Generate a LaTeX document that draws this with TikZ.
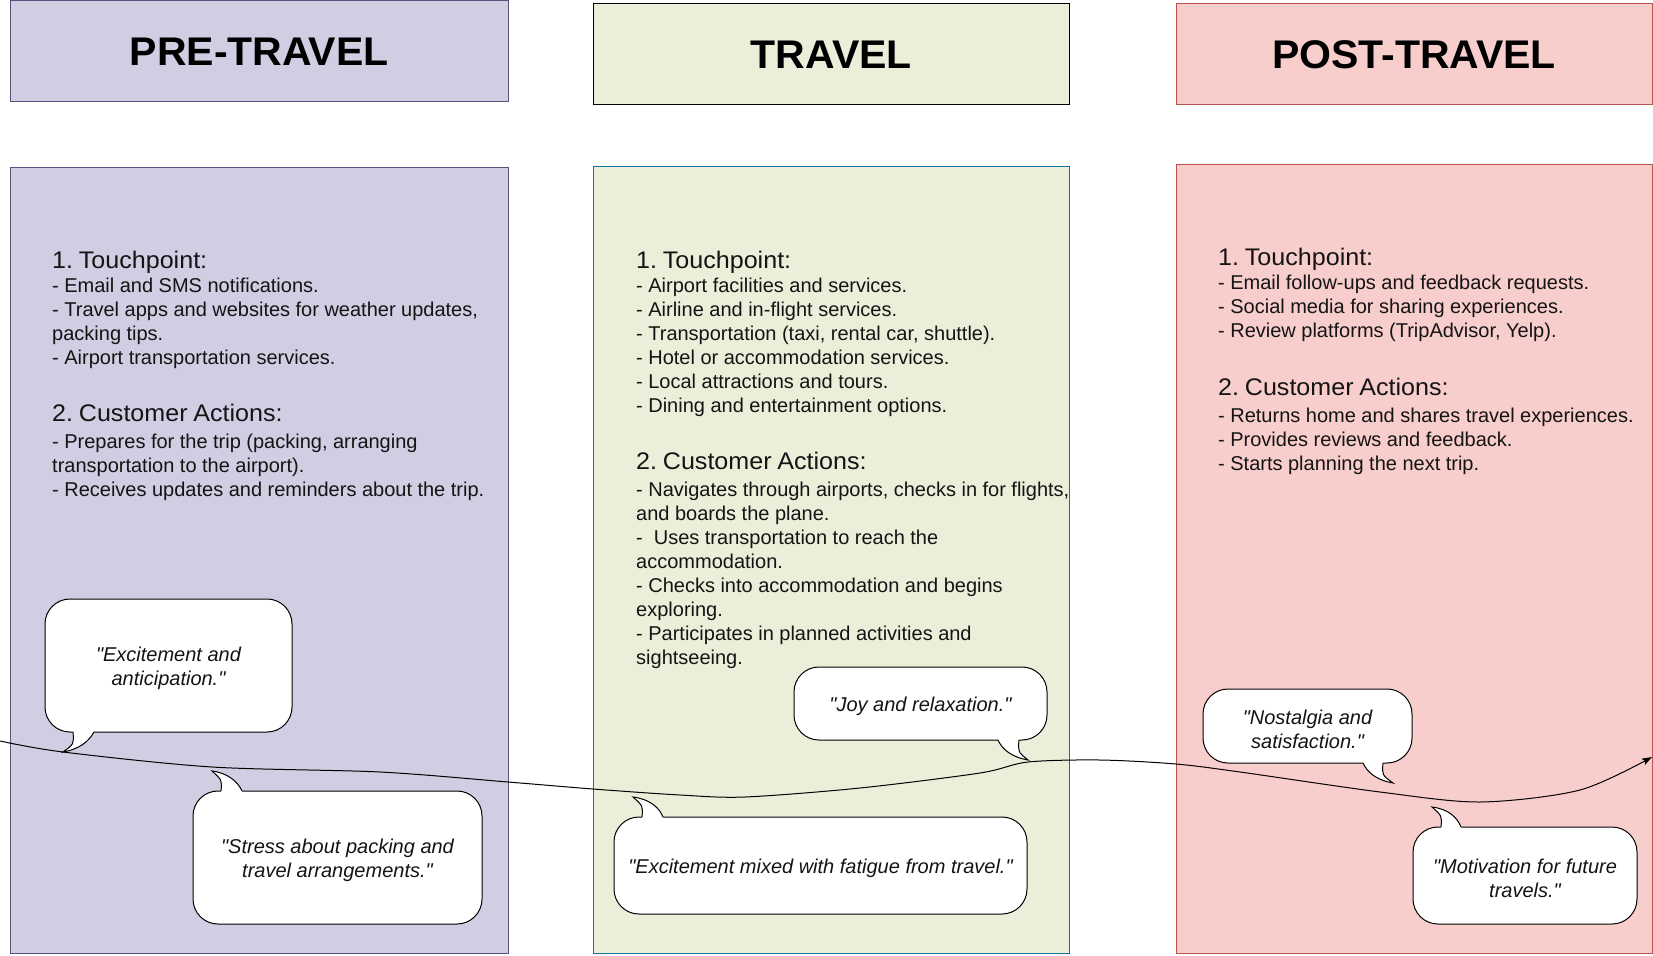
\documentclass[tikz,border=0pt]{standalone}
\usepackage{fontspec}
\setmainfont{Liberation Sans}
\newfontfamily\headfont{Liberation Sans}[FakeStretch=1.045]
\newfontfamily\bodyfont{Liberation Sans}
\newfontfamily\titlefont{Liberation Sans}[FakeStretch=1.025]
\usetikzlibrary{arrows.meta}

\definecolor{preFill}{HTML}{D0CEE2}
\definecolor{preLine}{HTML}{56517E}
\definecolor{trvFill}{HTML}{EDEEDA}
\definecolor{trvLine}{HTML}{10739E}
\definecolor{trvHead}{HTML}{000000}
\definecolor{postFill}{HTML}{F8CECC}
\definecolor{postLine}{HTML}{B85450}

% one line of a stage description: section heading / plain line
\newcommand\hdline[1]{{\headfont\fontsize{24}{28.8}\selectfont
  \frenchspacing\spaceskip=5.8pt plus 1pt\relax #1\par}}
\newcommand\bdline[1]{{\bodyfont\fontsize{20}{24}\selectfont
  \frenchspacing\spaceskip=5.5pt plus 1pt\relax #1\par}}
\newcommand\secgap{\kern2.8pt\relax}
\newcommand\notesetup{\parindent=0pt\relax\parskip=0pt\relax}
\newcommand\qq{\textquotedbl}

\begin{document}
\begin{tikzpicture}[x=1pt,y=-1pt,
  panel/.style={draw, line width=1pt, inner sep=0pt, outer sep=0pt},
  stagetitle/.style={font=\titlefont\fontsize{40}{48}\selectfont\bfseries},
  notes/.style={inner sep=0pt, anchor=base west, text width=470pt, text=black!92},
  bubble/.style={draw=black, fill=white, line width=1pt, rounded corners=25pt, inner sep=0pt},
  bubbletext/.style={inner sep=0pt, align=center, text=black!92,
                     font=\fontsize{20}{24}\selectfont\itshape},
  tailline/.style={draw=black, line width=1pt},
  journey/.style={draw=black, line width=1pt, -{Stealth[length=10pt,width=7pt,inset=2pt]}},
]
\useasboundingbox (0,0) rectangle (1653,955);

% ---------- stage headers ----------
\node[panel, fill=preFill, draw=preLine, minimum width=497.5pt, minimum height=101.5pt]
  (preHead) at (259.25,51.25) {};
\node[stagetitle] (preTitle) at (preHead.center) {PRE-TRAVEL};

\node[panel, fill=trvFill, draw=trvHead, minimum width=475.5pt, minimum height=101.5pt]
  (trvHead) at (831.25,54.25) {};
\node[stagetitle] (trvTitle) at (trvHead.center) {TRAVEL};

\node[panel, fill=postFill, draw=postLine, minimum width=476pt, minimum height=101.5pt]
  (postHead) at (1414,54.25) {};
\node[stagetitle] (postTitle) at (postHead.center) {POST-TRAVEL};

% ---------- stage bodies ----------
\node[panel, fill=preFill, draw=preLine, minimum width=497.5pt, minimum height=785.5pt]
  (preBody) at (259.25,560.25) {};
\node[panel, fill=trvFill, draw=trvLine, minimum width=475.5pt, minimum height=787pt]
  (trvBody) at (831.25,559.5) {};
\node[panel, fill=postFill, draw=postLine, minimum width=476pt, minimum height=788.5pt]
  (postBody) at (1414,558.75) {};

% ---------- stage descriptions ----------
\node[notes] (preNotes) at (52,268) {\notesetup
  \hdline{1. Touchpoint:}
  \bdline{- Email and SMS notifications.}
  \bdline{- Travel apps and websites for weather updates,}
  \bdline{packing tips.}
  \bdline{- Airport transportation services.}
  \hdline{\mbox{}}
  \hdline{2. Customer Actions:}\secgap
  \bdline{- Prepares for the trip (packing, arranging}
  \bdline{transportation to the airport).}
  \bdline{- Receives updates and reminders about the trip.}};

\node[notes] (trvNotes) at (636,268) {\notesetup
  \hdline{1. Touchpoint:}
  \bdline{- Airport facilities and services.}
  \bdline{- Airline and in-flight services.}
  \bdline{- Transportation (taxi, rental car, shuttle).}
  \bdline{- Hotel or accommodation services.}
  \bdline{- Local attractions and tours.}
  \bdline{- Dining and entertainment options.}
  \hdline{\mbox{}}
  \hdline{2. Customer Actions:}\secgap
  \bdline{- Navigates through airports, checks in for flights,}
  \bdline{and boards the plane.}
  \bdline{-\ \ Uses transportation to reach the}
  \bdline{accommodation.}
  \bdline{- Checks into accommodation and begins}
  \bdline{exploring.}
  \bdline{- Participates in planned activities and}
  \bdline{sightseeing.}};

\node[notes] (postNotes) at (1218,265.8) {\notesetup
  \hdline{1. Touchpoint:}
  \bdline{- Email follow-ups and feedback requests.}
  \bdline{- Social media for sharing experiences.}
  \bdline{- Review platforms (TripAdvisor, Yelp).}
  \hdline{\mbox{}}
  \hdline{2. Customer Actions:}\secgap
  \bdline{- Returns home and shares travel experiences.}
  \bdline{- Provides reviews and feedback.}
  \bdline{- Starts planning the next trip.}};

% ---------- emotion curve ----------
\coordinate (jStart) at (0,741);
\coordinate (jEnd) at (1652,757);
\draw[journey] plot[smooth, tension=0.5] coordinates {
  (jStart) (63,752) (212,767) (380,772) (508,782) (593,789) (680,795)
  (745,797) (860,788) (980,773) (1028,762) (1100,760) (1176,764) (1240,772)
  (1380,792) (1480,802) (1580,790) (jEnd)};

% ---------- speech bubbles ----------
% pre-travel, upper
\node[bubble, minimum width=247pt, minimum height=133pt] (emoExcite) at (168.5,665.5) {};
\fill[white] (73,730) -- (73,732) .. controls (74,744) .. (63,752)
  .. controls (80,749) and (89,741) .. (94,732) -- (94,730) -- cycle;
\draw[tailline] (73,732) .. controls (74,744) .. (63,752)
  .. controls (80,749) and (89,741) .. (94,732);
\node[bubbletext] (emoExciteText) at ([yshift=-3pt]emoExcite.center)
  {\qq Excitement and\\anticipation.\qq};

% pre-travel, lower
\node[bubble, minimum width=289pt, minimum height=133pt] (emoStress) at (337.5,857.5) {};
\fill[white] (221,793) -- (221,791) .. controls (222,780) .. (212,771)
  .. controls (228,773) and (238,782) .. (242,791) -- (242,793) -- cycle;
\draw[tailline] (221,791) .. controls (222,780) .. (212,771)
  .. controls (228,773) and (238,782) .. (242,791);
\node[bubbletext] (emoStressText) at ([yshift=-3pt]emoStress.center)
  {\qq Stress about packing and\\travel arrangements.\qq};

% travel, upper
\node[bubble, minimum width=253pt, minimum height=73pt] (emoJoy) at (920.5,703.5) {};
\fill[white] (1019,738) -- (1019,740) .. controls (1018,752) .. (1028,760)
  .. controls (1011,757) and (1002,749) .. (998,740) -- (998,738) -- cycle;
\draw[tailline] (1019,740) .. controls (1018,752) .. (1028,760)
  .. controls (1011,757) and (1002,749) .. (998,740);
\node[bubbletext] (emoJoyText) at ([yshift=-3pt]emoJoy.center)
  {\qq Joy and relaxation.\qq};

% travel, lower
\node[bubble, minimum width=413pt, minimum height=97pt] (emoFatigue) at (820.5,865.5) {};
\fill[white] (642,819) -- (642,817) .. controls (643,806) .. (633,797)
  .. controls (649,799) and (659,807) .. (663,817) -- (663,819) -- cycle;
\draw[tailline] (642,817) .. controls (643,806) .. (633,797)
  .. controls (649,799) and (659,807) .. (663,817);
\node[bubbletext] (emoFatigueText) at ([yshift=-3pt]emoFatigue.center)
  {\qq Excitement mixed with fatigue from travel.\qq};

% post-travel, upper
\node[bubble, minimum width=209pt, minimum height=74pt] (emoNostalgia) at (1307.5,726) {};
\fill[white] (1383,761) -- (1383,763) .. controls (1382,775) .. (1393,783)
  .. controls (1376,780) and (1367,772) .. (1363,763) -- (1363,761) -- cycle;
\draw[tailline] (1383,763) .. controls (1382,775) .. (1393,783)
  .. controls (1376,780) and (1367,772) .. (1363,763);
\node[bubbletext] (emoNostalgiaText) at ([yshift=-3pt]emoNostalgia.center)
  {\qq Nostalgia and\\satisfaction.\qq};

% post-travel, lower
\node[bubble, minimum width=224pt, minimum height=97pt] (emoMotivation) at (1525,875.5) {};
\fill[white] (1441,829) -- (1441,827) .. controls (1442,816) .. (1432,807)
  .. controls (1448,809) and (1457,817) .. (1461,827) -- (1461,829) -- cycle;
\draw[tailline] (1441,827) .. controls (1442,816) .. (1432,807)
  .. controls (1448,809) and (1457,817) .. (1461,827);
\node[bubbletext] (emoMotivationText) at ([yshift=-3pt]emoMotivation.center)
  {\qq Motivation for future\\travels.\qq};

\end{tikzpicture}
\end{document}
